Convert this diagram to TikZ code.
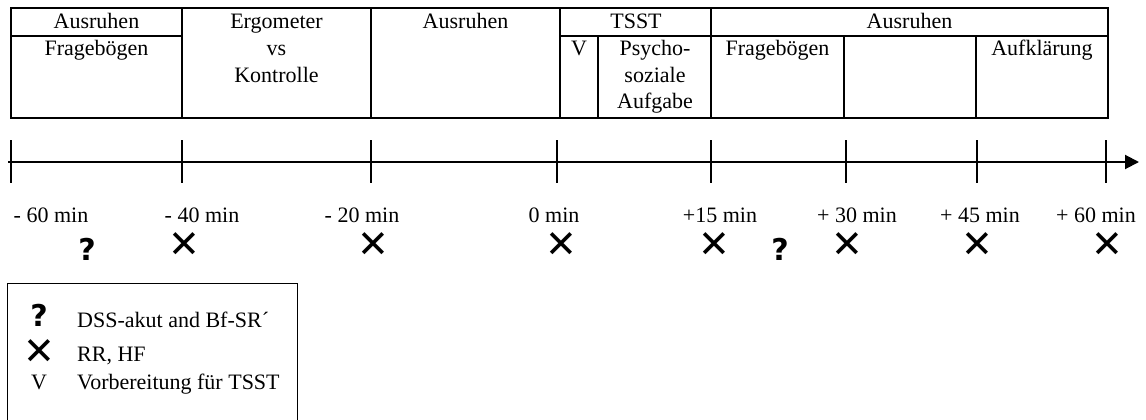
\documentclass[tikz,border=0pt]{standalone}
\usepackage{fontspec}
\setmainfont{Liberation Serif}
\newfontfamily\symfont{DejaVu Sans}
\usetikzlibrary{arrows.meta}

\begin{document}
\begin{tikzpicture}[x=1pt,y=-1pt,
  rule/.style={line width=2pt},
  thinrule/.style={line width=1pt},
  txt/.style={inner sep=0pt, anchor=base, font=\fontsize{22}{26}\selectfont},
  ltxt/.style={txt, anchor=base west},
  cross/.style={inner sep=0pt, font=\symfont\fontsize{38}{38}\selectfont},
  query/.style={inner sep=0pt, font=\symfont\bfseries\fontsize{30}{30}\selectfont}]

\clip (0,0) rectangle (1146,420);

% ---- schedule table ----
\draw[rule] (11,8) rectangle (1108,118);
\draw[rule] (11,36) -- (182,36);
\draw[rule] (560,36) -- (1108,36);
\foreach \x in {182,371,560,711} \draw[rule] (\x,8) -- (\x,118);
\foreach \x in {598,844,976} \draw[rule] (\x,36) -- (\x,118);

\node[txt] (c1a) at (96.5,29) {Ausruhen};
\node[txt] (c1b) at (96.5,56) {Fragebögen};
\node[txt] (c2a) at (276.5,29) {Ergometer};
\node[txt] (c2b) at (276.5,56) {vs};
\node[txt] (c2c) at (276.5,83) {Kontrolle};
\node[txt] (c3a) at (465.5,29) {Ausruhen};
\node[txt] (c4a) at (636,29) {TSST};
\node[txt] (c4v) at (579,56) {V};
\node[txt] (c4b) at (655,56) {Psycho-};
\node[txt] (c4c) at (655,82) {soziale};
\node[txt] (c4d) at (655,108) {Aufgabe};
\node[txt] (c5a) at (909.5,29) {Ausruhen};
\node[txt] (c5b) at (777.5,56) {Fragebögen};
\node[txt] (c5c) at (1042,56) {Aufklärung};

% ---- time axis ----
\coordinate (ax0) at (8,162);
\coordinate (ax1) at (1139,162);
\draw[rule,-{Triangle[length=14pt,width=14pt]}] (ax0) -- (ax1);
\foreach \x in {11,182,371,557,711,846,977,1106}
  \draw[rule] (\x,140) -- (\x,183);

\foreach \x/\t in {51/{- 60 min},202/{- 40 min},362/{- 20 min},554/{0 min},
                   720/{+15 min},857/{+ 30 min},980/{+ 45 min},1096/{+ 60 min}}
  \node[txt] at (\x,222) {\t};

% measurement markers
\foreach \x in {184,373,561,714,847,977,1107}
  \node[cross] at (\x,245) {✕};
\node[query] (q1) at (87,249) {?};
\node[query] (q2) at (780,249) {?};

% ---- legend ----
\draw[thinrule] (7,425) -- (7,283) -- (297,283) -- (297,425);
\node[query] (lq) at (39,315) {?};
\node[cross] (lx) at (39,352) {✕};
\node[txt] (lv) at (39,389) {V};
\node[ltxt] (lqt) at (77,327) {DSS-akut and Bf-SR´};
\node[ltxt] (lxt) at (77,361) {RR, HF};
\node[ltxt] (lvt) at (77,389) {Vorbereitung für TSST};
\end{tikzpicture}
\end{document}
